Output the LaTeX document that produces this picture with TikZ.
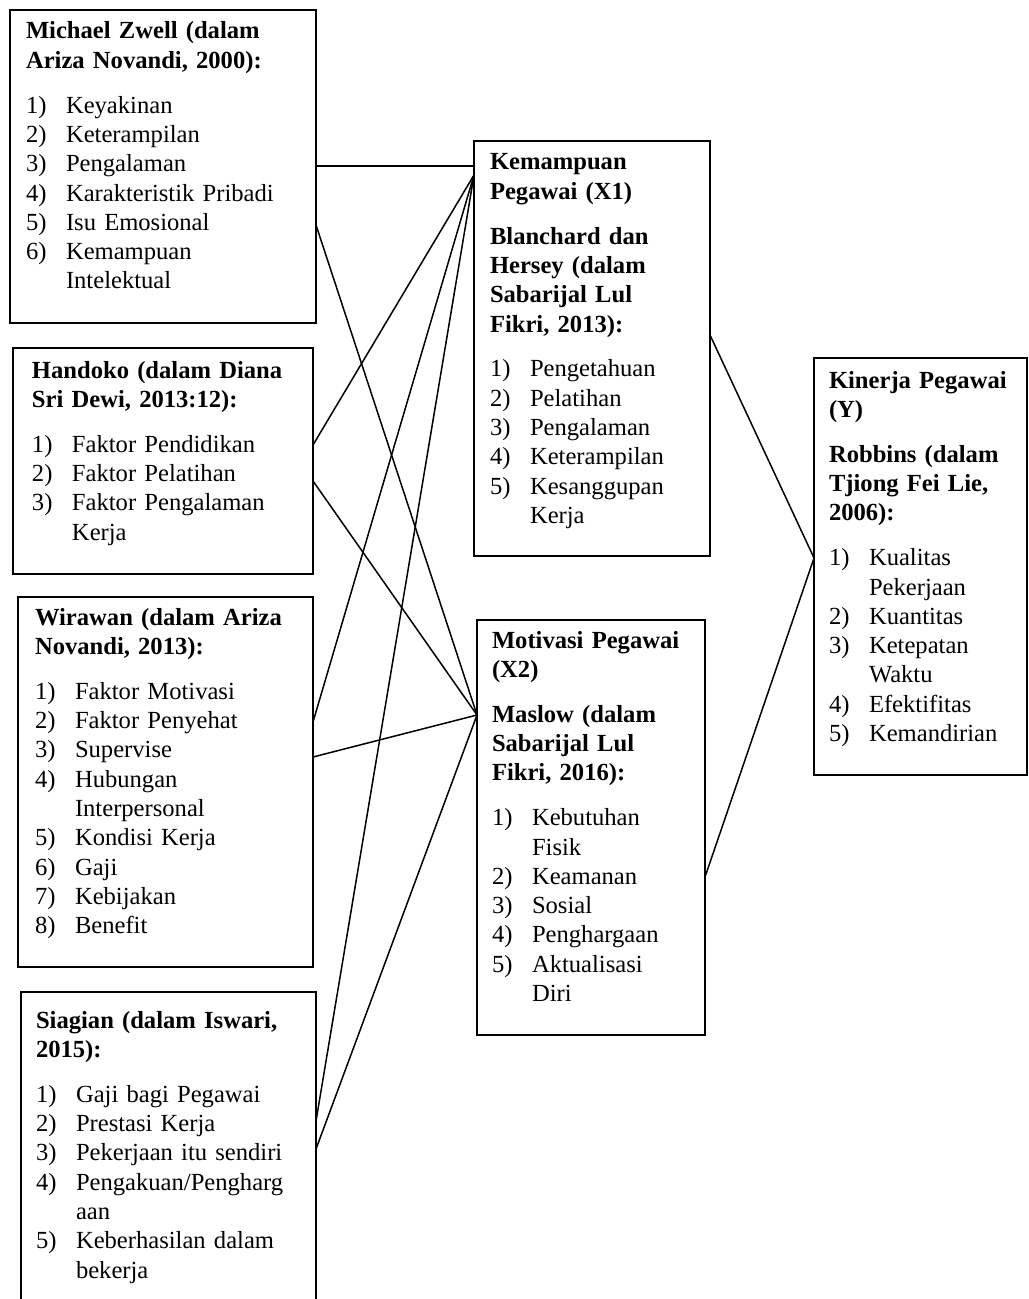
\documentclass[tikz,border=0pt]{standalone}
\usepackage{fontspec}
\setmainfont{Liberation Serif}
\usetikzlibrary{fit,calc}
\newcommand\ttl[1]{\noindent\textbf{#1}\par}
\newcommand\itm[2]{\noindent\makebox[20pt][l]{#1}#2\par}
\newcommand\cnt[1]{\noindent\hspace*{20pt}#1\par}
\newcommand\gap{\vspace{7.8pt}}
\begin{document}
\begin{tikzpicture}[x=0.5pt,y=-0.5pt,
  box/.style={draw,line width=0.9pt,inner sep=0pt,outer sep=0pt},
  txt/.style={anchor=base west,inner sep=0pt,outer sep=0pt,text width=250pt,align=left,font=\fontsize{12.3pt}{14.65pt}\selectfont},
  link/.style={line width=0.75pt}]
\useasboundingbox (0,0) rectangle (1028,1299);
\clip (0,0) rectangle (1028,1299);
% boxes
\node[box,fit={(10,10)(316,323)}] (A) {};
\node[box,fit={(13,348)(313,574)}] (B) {};
\node[box,fit={(18,597)(313,967)}] (C) {};
\node[box,fit={(21,992)(316,1330)}] (D) {};
\node[box,fit={(474,141)(710,556)}] (X1) {};
\node[box,fit={(477,620)(705,1035)}] (X2) {};
\node[box,fit={(814,358)(1027,775)}] (Y) {};
% texts
\node[txt] (tA) at (26,39) {%
\ttl{Michael Zwell (dalam}
\ttl{Ariza Novandi, 2000):}
\gap
\itm{1)}{Keyakinan}
\itm{2)}{Keterampilan}
\itm{3)}{Pengalaman}
\itm{4)}{Karakteristik Pribadi}
\itm{5)}{Isu Emosional}
\itm{6)}{Kemampuan}
\cnt{Intelektual}};
\node[txt] (tB) at (32,378) {%
\ttl{Handoko (dalam Diana}
\ttl{Sri Dewi, 2013:12):}
\gap
\itm{1)}{Faktor Pendidikan}
\itm{2)}{Faktor Pelatihan}
\itm{3)}{Faktor Pengalaman}
\cnt{Kerja}};
\node[txt] (tC) at (35,625) {%
\ttl{Wirawan (dalam Ariza}
\ttl{Novandi, 2013):}
\gap
\itm{1)}{Faktor Motivasi}
\itm{2)}{Faktor Penyehat}
\itm{3)}{Supervise}
\itm{4)}{Hubungan}
\cnt{Interpersonal}
\itm{5)}{Kondisi Kerja}
\itm{6)}{Gaji}
\itm{7)}{Kebijakan}
\itm{8)}{Benefit}};
\node[txt] (tD) at (36,1028) {%
\ttl{Siagian (dalam Iswari,}
\ttl{2015):}
\gap
\itm{1)}{Gaji bagi Pegawai}
\itm{2)}{Prestasi Kerja}
\itm{3)}{Pekerjaan itu sendiri}
\itm{4)}{Pengakuan/Pengharg}
\cnt{aan}
\itm{5)}{Keberhasilan dalam}
\cnt{bekerja}};
\node[txt] (tX1) at (490,170) {%
\ttl{Kemampuan}
\ttl{Pegawai (X1)}
\gap
\ttl{Blanchard dan}
\ttl{Hersey (dalam}
\ttl{Sabarijal Lul}
\ttl{Fikri, 2013):}
\gap
\itm{1)}{Pengetahuan}
\itm{2)}{Pelatihan}
\itm{3)}{Pengalaman}
\itm{4)}{Keterampilan}
\itm{5)}{Kesanggupan}
\cnt{Kerja}};
\node[txt] (tX2) at (492,648) {%
\ttl{Motivasi Pegawai}
\ttl{(X2)}
\gap
\ttl{Maslow (dalam}
\ttl{Sabarijal Lul}
\ttl{Fikri, 2016):}
\gap
\itm{1)}{Kebutuhan}
\cnt{Fisik}
\itm{2)}{Keamanan}
\itm{3)}{Sosial}
\itm{4)}{Penghargaan}
\itm{5)}{Aktualisasi}
\cnt{Diri}};
\node[txt] (tY) at (829,388) {%
\ttl{Kinerja Pegawai}
\ttl{(Y)}
\gap
\ttl{Robbins (dalam}
\ttl{Tjiong Fei Lie,}
\ttl{2006):}
\gap
\itm{1)}{Kualitas}
\cnt{Pekerjaan}
\itm{2)}{Kuantitas}
\itm{3)}{Ketepatan}
\cnt{Waktu}
\itm{4)}{Efektifitas}
\itm{5)}{Kemandirian}};
% connectors
\draw[link] ($(A.north east)+(0,156)$) -- ($(X1.north west)+(0,25)$);
\draw[link] ($(A.north east)+(0,215)$) -- ($(X2.north west)+(0,95)$);
\draw[link] ($(B.north east)+(0,97)$) -- ($(X1.north west)+(0,34)$);
\draw[link] ($(B.north east)+(0,133)$) -- ($(X2.north west)+(0,95)$);
\draw[link] ($(C.north east)+(0,125)$) -- ($(X1.north west)+(0,34)$);
\draw[link] ($(C.north east)+(0,160)$) -- ($(X2.north west)+(0,95)$);
\draw[link] ($(D.north east)+(0,129)$) -- ($(X1.north west)+(0,34)$);
\draw[link] ($(D.north east)+(0,157)$) -- ($(X2.north west)+(0,95)$);
\draw[link] ($(X1.north east)+(0,194)$) -- ($(Y.north west)+(0,200)$);
\draw[link] ($(X2.north east)+(0,257)$) -- ($(Y.north west)+(0,200)$);
\end{tikzpicture}
\end{document}
